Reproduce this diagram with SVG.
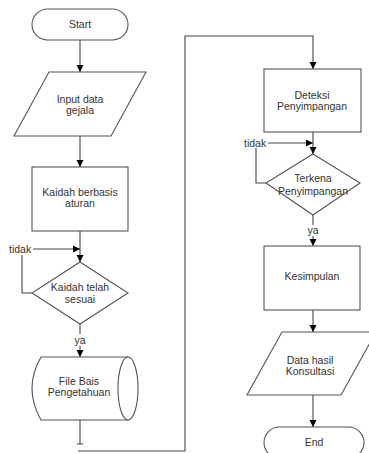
<svg xmlns="http://www.w3.org/2000/svg" width="369" height="453" viewBox="0 0 369 453">
<defs>
<marker id="arr" markerUnits="userSpaceOnUse" markerWidth="8" markerHeight="8" refX="7" refY="4" orient="auto">
<path d="M0,0.5 L7,4 L0,7.5 Z" fill="#000"/>
</marker>
<style>
.s{fill:#fff;stroke:#555;stroke-width:1.1}
.c{fill:none;stroke:#444;stroke-width:1.1}
.t{font-family:"Liberation Sans",Arial,sans-serif;font-size:10.5px;fill:#333;text-anchor:middle}
.l{font-family:"Liberation Sans",Arial,sans-serif;font-size:10.5px;fill:#333}
</style>
</defs>
<rect width="369" height="453" fill="#fff"/>
<g id="connectors">
<path class="c" d="M80 40 V72" marker-end="url(#arr)"/>
<path class="c" d="M80 136 V167" marker-end="url(#arr)"/>
<path class="c" d="M80 231 V262" marker-end="url(#arr)"/>
<path class="c" d="M33 249 H80" marker-end="url(#arr)"/>
<path class="c" d="M32 293 H22 V255"/>
<path class="c" d="M80 324 V334"/>
<path class="c" d="M80 346 V357" marker-end="url(#arr)"/>
<path class="c" d="M80 420 V444 M77 444 H83"/>
<path class="c" d="M78 451 H185 V36 H313 V69" marker-end="url(#arr)"/>
<path class="c" d="M313 132 V154" marker-end="url(#arr)"/>
<path class="c" d="M268 143 H313" marker-end="url(#arr)"/>
<path class="c" d="M266 183 H256 V148"/>
<path class="c" d="M313 215 V225"/>
<path class="c" d="M313 236 V246" marker-end="url(#arr)"/>
<path class="c" d="M313 310 V332" marker-end="url(#arr)"/>
<path class="c" d="M313 395 V427" marker-end="url(#arr)"/>
<text class="l" x="9" y="253">tidak</text>
<text class="t" x="80" y="344">ya</text>
<text class="l" x="244" y="147">tidak</text>
<text class="t" x="313" y="234">ya</text>
</g>
<g id="start">
<rect class="s" x="32" y="9" width="96" height="31" rx="15.5"/>
<text class="t" x="80" y="28">Start</text>
</g>
<g id="input">
<path class="s" d="M49 72 H146 L111 136 H14 Z"/>
<text class="t" x="80" y="103">Input data</text>
<text class="t" x="80" y="114">gejala</text>
</g>
<g id="kaidah">
<rect class="s" x="32" y="167" width="96" height="64"/>
<text class="t" x="80" y="196">Kaidah berbasis</text>
<text class="t" x="80" y="207">aturan</text>
</g>
<g id="kaidah-sesuai">
<path class="s" d="M80 262 L128 293 L80 324 L32 293 Z"/>
<text class="t" x="80" y="291">Kaidah telah</text>
<text class="t" x="80" y="303">sesuai</text>
</g>
<g id="file">
<path class="s" d="M41 357 H128 V420 H41 Q23 388.5 41 357 Z"/>
<ellipse class="s" cx="128" cy="388.5" rx="10" ry="31.5"/>
<text class="t" x="79" y="385">File Bais</text>
<text class="t" x="79" y="396">Pengetahuan</text>
</g>
<g id="deteksi">
<rect class="s" x="264" y="69" width="97" height="63"/>
<text class="t" x="312" y="99">Deteksi</text>
<text class="t" x="312" y="110">Penyimpangan</text>
</g>
<g id="terkena">
<path class="s" d="M313 154 L360 183 L313 215 L266 183 Z"/>
<text class="t" x="313" y="182">Terkena</text>
<text class="t" x="313" y="195">Penyimpangan</text>
</g>
<g id="kesimpulan">
<rect class="s" x="264" y="246" width="96" height="64"/>
<text class="t" x="312" y="280">Kesimpulan</text>
</g>
<g id="data-hasil">
<path class="s" d="M282 332 H376 L341 395 H247 Z"/>
<text class="t" x="310" y="364">Data hasil</text>
<text class="t" x="310" y="375">Konsultasi</text>
</g>
<g id="end">
<rect class="s" x="264" y="427" width="100" height="31" rx="15.5"/>
<text class="t" x="314" y="446">End</text>
</g>
</svg>
